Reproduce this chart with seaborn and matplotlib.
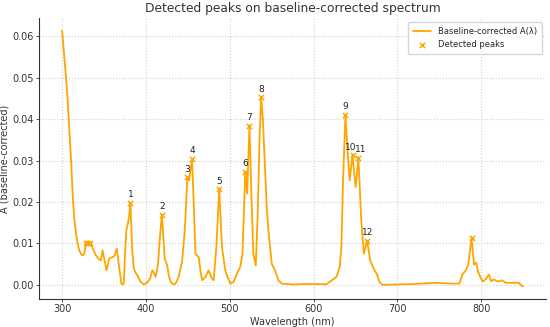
import matplotlib
matplotlib.use("Agg")
import matplotlib.pyplot as plt
import seaborn as sns
import pandas as pd

# baseline-corrected spectrum
wavelength = [
    300, 302, 304.7, 306.5, 308, 310.7, 312.7, 314.5, 316.6, 318.5, 320.5, 322.5,
    324.5, 326.5, 328.5, 330.5, 333, 334.4, 337.6, 340, 342.3, 344.5, 346.3,
    348.3, 350.5, 353, 356.2, 358.5, 360.2, 362.5, 365.3, 368, 370.8, 373.5,
    375, 376.5, 378.5, 380, 381.5, 383.5, 385.5, 387.5, 389.8, 393.8, 397.7,
    401.7, 405, 407.6, 409.5, 411.6, 414.4, 416.5, 419, 421, 422.5, 425.4,
    427.5, 430, 433.3, 436, 439.2, 443.2, 446.3, 449.5, 451.5, 455, 457,
    459.1, 463, 465, 467, 470.9, 474.8, 478.8, 480.8, 484, 487.5, 490.7,
    494.7, 497.4, 500.6, 504.6, 508.5, 512.5, 515.2, 518.5, 520.8, 523.5,
    526.3, 528.2, 531.1, 533.4, 535.5, 537.5, 539.5, 541, 544.1, 546.1, 550.1,
    554, 558, 562, 575, 590, 605, 615, 621.3, 627.2, 631.2, 633.2, 635.2,
    638, 640.3, 643.1, 646.5, 650.2, 653.5, 656.9, 660, 664, 667.5, 672.7,
    675.4, 678.6, 682.5, 700, 720, 745, 765, 774, 777.5, 781.5, 784.6, 786.5,
    788.5, 790, 791.4, 794.1, 796.1, 799.3, 802, 805.2, 809.1, 811.9, 815.1,
    819.8, 825, 829, 834.9, 840.8, 844.8, 848.7, 850,
]
absorbance = [
    0.0613, 0.0565, 0.0500, 0.0450, 0.0397, 0.0300, 0.0215, 0.0160, 0.0124, 0.0100, 0.0083, 0.0075,
    0.0071, 0.0075, 0.0101, 0.0102, 0.0101, 0.0098, 0.0083, 0.0072, 0.0066, 0.0061, 0.0059,
    0.0083, 0.0060, 0.0035, 0.0063, 0.0066, 0.0067, 0.0070, 0.0087, 0.0043, 0.0002, 0.0002,
    0.0070, 0.0130, 0.0148, 0.0165, 0.0198, 0.0090, 0.0040, 0.0030, 0.0023, 0.0007, 0.0001,
    0.0006, 0.0015, 0.0035, 0.0030, 0.0019, 0.0049, 0.0110, 0.0169, 0.0110, 0.0063, 0.0047,
    0.0020, 0.0005, 0.0001, 0.0005, 0.0021, 0.0057, 0.0130, 0.0260, 0.0252, 0.0304, 0.0200,
    0.0075, 0.0067, 0.0035, 0.0011, 0.0019, 0.0035, 0.0015, 0.0011, 0.0091, 0.0231, 0.0091,
    0.0035, 0.0019, 0.0003, 0.0007, 0.0027, 0.0043, 0.0075, 0.0273, 0.0220, 0.0384,
    0.0188, 0.0075, 0.0047, 0.0172, 0.0350, 0.0453, 0.0400, 0.0333, 0.0188, 0.0132, 0.0051,
    0.0035, 0.0011, 0.0003, 0.0001, 0.0002, 0.0002, 0.0001, 0.0010, 0.0019, 0.0043, 0.0091, 0.0252,
    0.0410, 0.0333, 0.0252, 0.0313, 0.0236, 0.0307, 0.0156, 0.0075, 0.0107, 0.0059, 0.0035,
    0.0027, 0.0007, 0.0000, 0.0001, 0.0002, 0.0005, 0.0003, 0.0003, 0.0025, 0.0035, 0.0049, 0.0080,
    0.0114, 0.0080, 0.0049, 0.0053, 0.0033, 0.0017, 0.0008, 0.0013, 0.0025, 0.0009, 0.0013,
    0.0008, 0.0011, 0.0005, 0.0005, 0.0005, 0.0005, -0.0003, -0.0003,
]

# detected peaks (only the main ones carry a number)
peak_wl = [328.5, 330.5, 333, 381.5, 419, 449.5, 455, 487.5, 518.5, 523.5,
           537.5, 638, 646.5, 653.5, 664, 788.5]
peak_A = [0.0101, 0.0102, 0.0101, 0.0198, 0.0169, 0.0260, 0.0304, 0.0231, 0.0273,
          0.0384, 0.0453, 0.0410, 0.0313, 0.0307, 0.0107, 0.0114]
peak_labels = ["", "", "", "1", "2", "3", "4", "5", "6", "7", "8", "9", "10", "11", "12", ""]

ORANGE = "#FFA500"

sns.set_style("whitegrid", {
    "grid.linestyle": ":",
    "grid.color": "#d0d0d0",
    "axes.edgecolor": "#333333",
})
plt.rcParams["font.family"] = ["DejaVu Sans"]

spec = pd.DataFrame({"wl": wavelength, "A": absorbance})
peaks = pd.DataFrame({"wl": peak_wl, "A": peak_A, "label": peak_labels})

fig, ax = plt.subplots(figsize=(5.5, 3.27), dpi=100)
sns.lineplot(data=spec, x="wl", y="A", color=ORANGE, linewidth=1.3, ax=ax,
             label="Baseline-corrected A(λ)")
sns.scatterplot(data=peaks, x="wl", y="A", color=ORANGE, marker="x", s=14,
                linewidth=1.1, ax=ax, label="Detected peaks", zorder=3)

# small nudges so the close labels 10 / 11 don't collide
nudge = {"10": -1.5, "11": 2.0}
for _, row in peaks.iterrows():
    if row["label"]:
        ax.annotate(row["label"], (row["wl"], row["A"]),
                    xytext=(nudge.get(row["label"], 0), 2.5),
                    textcoords="offset points", ha="center", va="bottom",
                    fontsize=6.5, color="#222222")

ax.set_title("Detected peaks on baseline-corrected spectrum", fontsize=8.8, color="#333333", pad=4)
ax.set_xlabel("Wavelength (nm)", fontsize=7, color="#333333", labelpad=2)
ax.set_ylabel("A (baseline-corrected)", fontsize=7, color="#333333", labelpad=2)
ax.tick_params(labelsize=7, colors="#333333", length=2, width=0.6, pad=1.5)
ax.tick_params(axis="both", which="both", bottom=True, left=True)
ax.set_xticks([300, 400, 500, 600, 700, 800])
ax.set_yticks([0.0, 0.01, 0.02, 0.03, 0.04, 0.05, 0.06])
ax.grid(True, linestyle=":", color="#d0d0d0", linewidth=0.8)
sns.despine(ax=ax)
for s in ["left", "bottom"]:
    ax.spines[s].set_linewidth(0.8)

ax.legend(loc="upper right", fontsize=6, frameon=True, edgecolor="#cccccc",
          handlelength=2.2, borderpad=0.6)

fig.subplots_adjust(left=0.071, right=0.993, bottom=0.086, top=0.945)
fig.savefig("out.png", dpi=100)
